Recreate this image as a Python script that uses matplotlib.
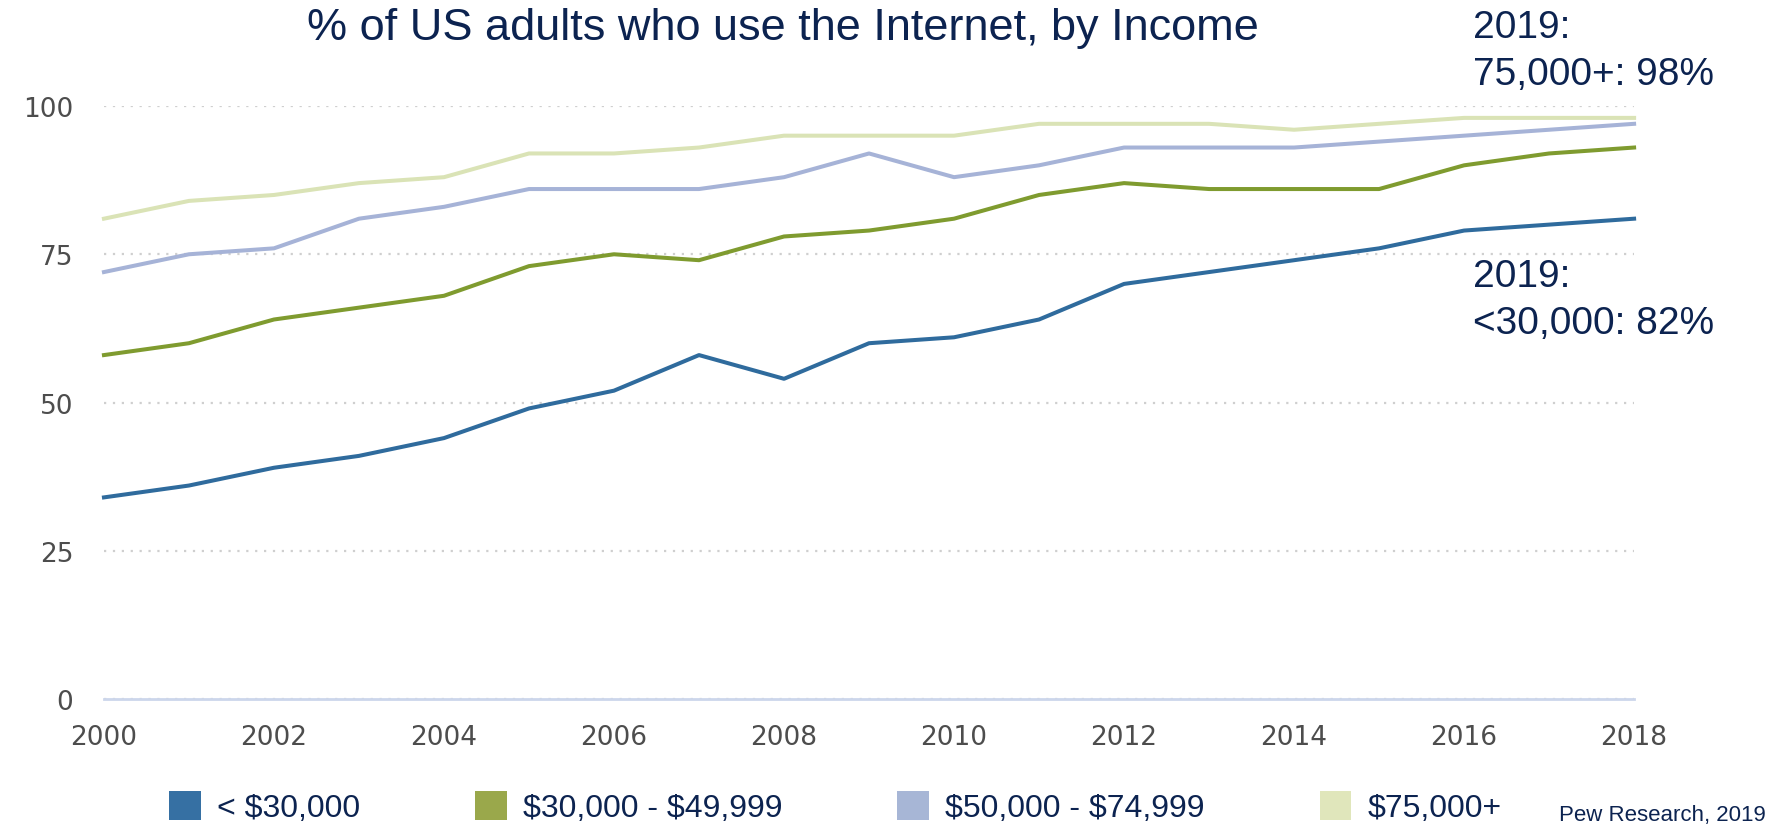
import matplotlib.pyplot as plt
from matplotlib.patches import Patch

years = list(range(2000, 2019))

# share of adults online, by household income
under_30k = [34, 36, 39, 41, 44, 49, 52, 58, 54, 60, 61, 64, 70, 72, 74, 76, 79, 80, 81]
from_30k_to_50k = [58, 60, 64, 66, 68, 73, 75, 74, 78, 79, 81, 85, 87, 86, 86, 86, 90, 92, 93]
from_50k_to_75k = [72, 75, 76, 81, 83, 86, 86, 86, 88, 92, 88, 90, 93, 93, 93, 94, 95, 96, 97]
over_75k = [81, 84, 85, 87, 88, 92, 92, 93, 95, 95, 95, 97, 97, 97, 96, 97, 98, 98, 98]

series_labels = [r'< \$30,000', r'\$30,000 - \$49,999', r'\$50,000 - \$74,999', r'\$75,000+']
line_colors = ['#2f6b9d', '#7f9b2f', '#a6b3d7', '#dae3b6']
legend_colors = ['#3670a3', '#9aa84b', '#a7b6d6', '#e0e6bb']

y_ticks = [0, 25, 50, 75, 100]
x_ticks = list(range(2000, 2019, 2))

navy = '#0c2350'

fig = plt.figure(figsize=(17.71, 8.29), dpi=100)
ax = fig.add_axes([0.0587, 0.1556, 0.8640, 0.7153])

for vals, col, lab in zip([under_30k, from_30k_to_50k, from_50k_to_75k, over_75k],
                          line_colors, series_labels):
    ax.plot(years, vals, color=col, lw=2.9, label=lab, clip_on=False, zorder=3)

ax.set_xlim(2000, 2018)
ax.set_ylim(0, 100)
ax.set_yticks(y_ticks)
ax.set_xticks(x_ticks)

for sp in ['top', 'right', 'left']:
    ax.spines[sp].set_visible(False)
ax.spines['bottom'].set_color('#ccd6eb')
ax.spines['bottom'].set_linewidth(2)

ax.yaxis.grid(True, linestyle=(0, (1, 3)), color='#cfcfcf', lw=1.6)
ax.tick_params(axis='both', length=0, labelcolor='#4d4d4d', labelsize=19)
ax.tick_params(axis='y', pad=22)
ax.tick_params(axis='x', pad=18)

fig.text(0.442, 0.966, '% of US adults who use the Internet, by Income',
         ha='center', va='center', fontsize=32.5, color=navy, family='Liberation Sans')

fig.text(0.832, 0.988, '2019:\n75,000+: 98%', ha='left', va='top', fontsize=28,
         color=navy, family='Liberation Sans', linespacing=1.4)
fig.text(0.832, 0.688, '2019:\n<30,000: 82%', ha='left', va='top', fontsize=28,
         color=navy, family='Liberation Sans', linespacing=1.4)

handles = [Patch(facecolor=c, edgecolor='none') for c in legend_colors]
fig.legend(handles, series_labels, loc='center left', bbox_to_anchor=(0.088, 0.025),
           ncol=4, frameon=False, handlelength=1.0, handleheight=1.0,
           handletextpad=0.5, columnspacing=3.6, borderaxespad=0,
           prop={'family': ['Liberation Sans Narrow', 'Liberation Sans'], 'size': 23},
           labelcolor=navy)

fig.text(0.997, 0.004, 'Pew Research, 2019', ha='right', va='bottom', fontsize=16,
         color=navy, family='Liberation Sans')

fig.savefig('out.png', dpi=100)
